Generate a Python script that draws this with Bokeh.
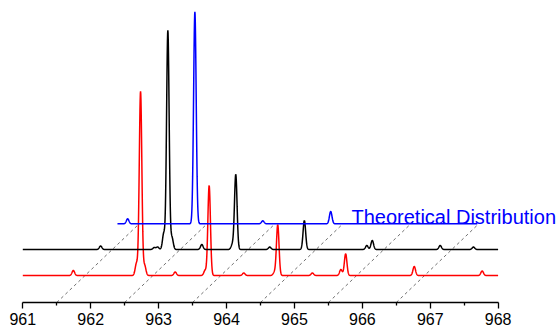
import numpy as np
from bokeh.plotting import figure
from bokeh.models import Range1d, FixedTicker, Label
from bokeh.embed import file_html
from bokeh.resources import INLINE

# ---- data: peak lists (m/z, intensity in display units) ----
red_mz = [961.33, 962.26, 962.32, 962.38, 962.83, 963.27, 963.33, 963.84,
          964.29, 964.34, 964.85, 965.27, 965.34, 966.35, 967.35]
red_h = [5, 12, 184, 10, 3.5, 5, 90, 2.5, 3, 50.7, 2.5, 6, 21.7, 9, 4.5]
red_span = [960.586, 967.586]

black_mz = [961.33, 962.12, 962.17, 962.26, 962.32, 962.38, 962.82, 963.27,
            963.32, 963.82, 964.33, 965.25, 965.33, 966.33, 966.82]
black_h = [3.5, 2, 2.5, 16, 219, 12, 5, 5, 75, 2.5, 29, 4, 9, 4, 2.5]
black_span = [960.184, 967.184]

blue_mz = [961.33, 962.32, 963.32, 964.32]
blue_h = [5, 212, 3, 12.3]
blue_span = [961.18, 966.48]

# waterfall offsets (x shift, y shift) per layer
red_off = (0.414, 27.0)
black_off = (0.816, 53.0)
blue_off = (1.214, 78.7)

major_ticks = [961, 962, 963, 964, 965, 966, 967, 968]
minor_ticks = [961.5, 962.5, 963.5, 964.5, 965.5, 966.5, 967.5]
drop_starts = [961.5, 962.5, 963.5, 964.5, 965.5, 966.5]

SIGMA = 0.019
px_per_unit = 67.91
x0 = 961 - 22.3 / px_per_unit

p = figure(width=557, height=330, output_backend="svg", toolbar_location=None,
           x_range=Range1d(x0, x0 + 557 / px_per_unit), y_range=Range1d(0, 302),
           min_border_left=0, min_border_right=0, min_border_top=0,
           min_border_bottom=28)
p.outline_line_color = None
p.grid.visible = False
p.yaxis.visible = False
p.background_fill_color = "white"
p.border_fill_color = "white"

# dashed depth lines
for xs in drop_starts:
    p.line([xs, xs + blue_off[0]], [0, blue_off[1]], line_color="#707070",
           line_width=1, line_dash="3 3")


def spectrum(mz, h, span, off):
    x = np.arange(span[0], span[1] + 1e-9, 0.003)
    y = np.zeros_like(x)
    for m, a in zip(mz, h):
        y += a * np.exp(-0.5 * ((x - m) / SIGMA) ** 2)
    return x + off[0], y + off[1]


for mz, h, span, off, col in [(red_mz, red_h, red_span, red_off, "#ff0000"),
                              (black_mz, black_h, black_span, black_off, "#000000"),
                              (blue_mz, blue_h, blue_span, blue_off, "#0000ff")]:
    xx, yy = spectrum(mz, h, span, off)
    p.line(xx, yy, line_color=col, line_width=1.5)

p.add_layout(Label(x=965.84, y=85.5, text="Theoretical Distribution",
                   text_color="#0000ff", text_font_size="20px",
                   text_font="Liberation Sans", text_baseline="alphabetic"))

ax = p.xaxis[0]
ax.bounds = (961, 968)
ax.ticker = FixedTicker(ticks=major_ticks, minor_ticks=minor_ticks)
ax.axis_line_width = 1.4
ax.major_tick_line_width = 1.3
ax.minor_tick_line_width = 1.3
ax.major_tick_out = 6
ax.major_tick_in = 0
ax.minor_tick_out = 3
ax.minor_tick_in = 0
ax.major_label_text_font = "Liberation Sans"
ax.major_label_text_font_size = "16px"
ax.major_label_text_color = "black"
ax.major_label_standoff = 4

open("out.html", "w").write(file_html(p, INLINE))
